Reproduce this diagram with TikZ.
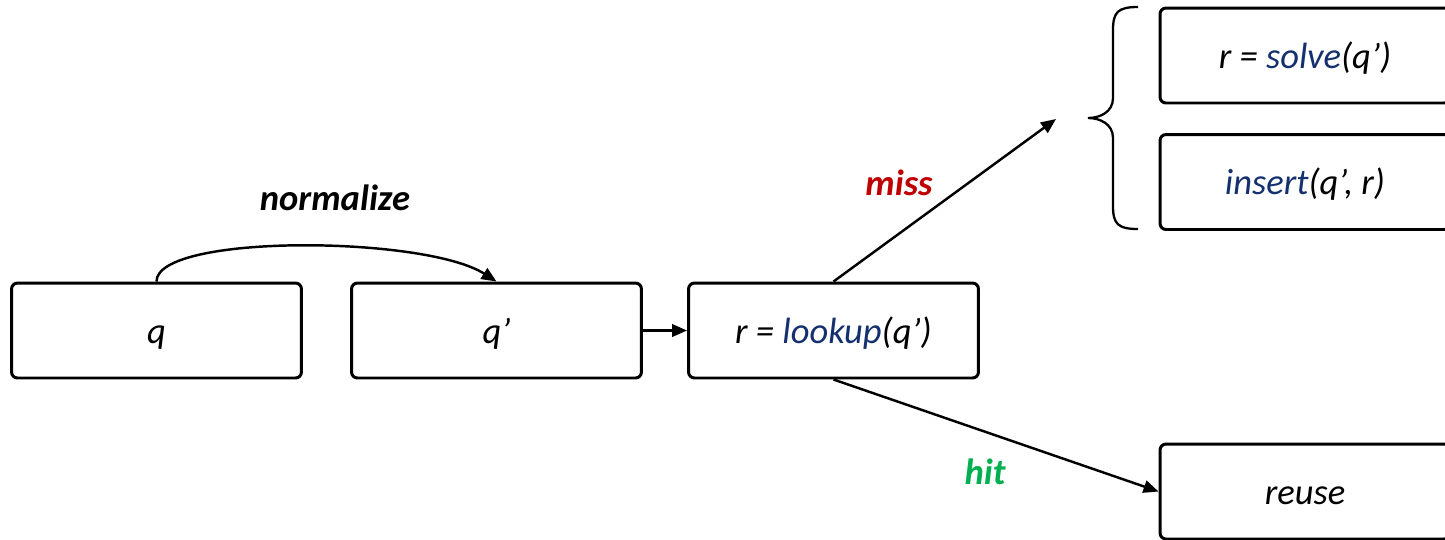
\documentclass[tikz,border=0pt]{standalone}
\usepackage{fontspec}
\setmainfont{Carlito}
\usetikzlibrary{arrows.meta}
\definecolor{fnblue}{HTML}{14306E}
\definecolor{missred}{HTML}{C00000}
\definecolor{hitgreen}{HTML}{00B050}
\tikzset{
  box/.style={draw=black, line width=1.7pt, rounded corners=0.12cm, fill=white,
    minimum width=5.8cm, minimum height=1.9cm, inner sep=0pt,
    text height=0.6cm, text depth=0.1cm,
    font=\fontsize{20.8}{25}\selectfont\itshape},
  conn/.style={draw=black, line width=1.4pt, -{Triangle[length=0.3cm,width=0.25cm]}},
  lbl/.style={font=\fontsize{20.8}{25}\selectfont\bfseries\itshape, inner sep=0pt}
}
\newcommand{\fn}[1]{\textcolor{fnblue}{#1}}
\begin{document}
\begin{tikzpicture}[x=0.02cm, y=-0.02cm]
\clip (0,0) rectangle (1445,539);
\fill[white] (0,0) rectangle (1445,539);
\node[box] (q) at (156.5,330.5) {q};
\node[box] (qp) at (496.5,330.5) {q’};
\node[box] (lk) at (833.5,330.5) {r = \fn{lookup}(q’)};
\node[box] (sv) at (1305,55.5) {r = \fn{solve}(q’)};
\node[box] (ins) at (1305,182) {\fn{insert}(q’, r)};
\node[box] (ru) at (1305,491.5) {reuse};
\coordinate (misstip) at (1056,119);
\draw[conn] (q.north) .. controls +(0,-48) and +(-72,-46) .. (qp.north);
\draw[conn] (qp.east) -- (lk.west);
\draw[conn] (lk.north) -- (misstip);
\draw[conn] (lk.south) -- (ru.west);
\node[lbl] (nl) at (335,198) {normalize};
\node[lbl, text=missred] (ml) at (899,183) {miss};
\node[lbl, text=hitgreen] (hl) at (985,472) {hit};
\draw[line width=1.3pt] (1138,7) .. controls (1118,7) and (1113,12) .. (1113,30) -- (1113,98)
  .. controls (1113,112) and (1100,118) .. (1088,118)
  .. controls (1100,118) and (1113,124) .. (1113,138) -- (1113,206)
  .. controls (1113,224) and (1118,229) .. (1138,229);
\end{tikzpicture}
\end{document}
